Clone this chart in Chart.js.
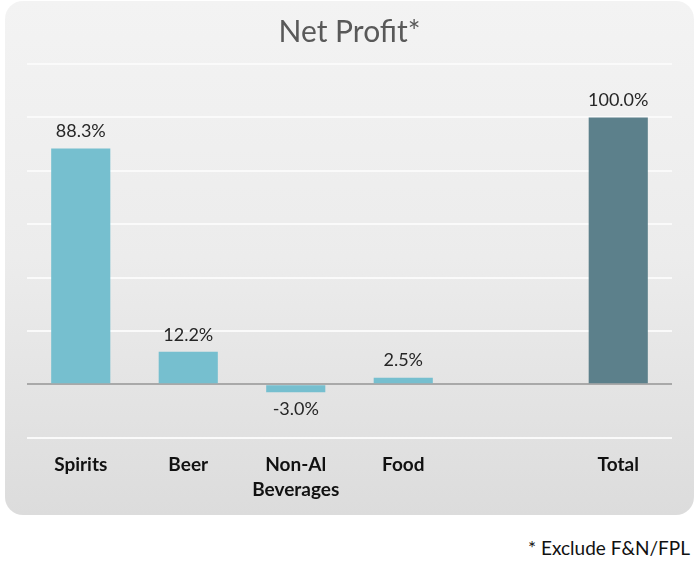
<!DOCTYPE html>
<html>
<head>
<meta charset="utf-8">
<script src="https://cdn.jsdelivr.net/npm/chart.js@4"></script>
<style>
  html, body { margin: 0; padding: 0; background: #ffffff; }
  #wrap { position: relative; width: 700px; height: 574px; }
  #panel {
    position: absolute; left: 5px; top: 1px; width: 689px; height: 514px;
    border-radius: 18px;
    background: linear-gradient(to bottom, #f3f3f3 0%, #ececec 50%, #dcdcdc 100%);
  }
  #note {
    position: absolute; right: 10px; top: 536px;
    font-family: Lato, "Open Sans", sans-serif; font-size: 19px; color: #111;
  }
  canvas { position: absolute; left: 0; top: 0; }
</style>
</head>
<body>
<div id="wrap">
  <div id="panel"></div>
  <canvas id="chart" width="700" height="520"></canvas>
  <div id="note">* Exclude F&amp;N/FPL</div>
</div>
<script>
// chart data
const categories = [['Spirits'], ['Beer'], ['Non-Al', 'Beverages'], ['Food'], [''], ['Total']];
const profitShare = [88.3, 12.2, -3.0, 2.5, null, 100.0];
const barColors = ['#76bfcf', '#76bfcf', '#76bfcf', '#76bfcf', '#76bfcf', '#5c808b'];

// draw the % labels above (or below) each bar
const valueLabels = {
  id: 'valueLabels',
  afterDatasetsDraw(chart) {
    const ctx = chart.ctx;
    const meta = chart.getDatasetMeta(0);
    ctx.save();
    ctx.font = '18px Lato, "Open Sans", sans-serif';
    ctx.fillStyle = '#262626';
    ctx.textAlign = 'center';
    ctx.textBaseline = 'middle';
    meta.data.forEach((bar, i) => {
      const v = profitShare[i];
      if (v === null) return;
      const y = v >= 0 ? bar.y - 17 : bar.y + 17;
      ctx.fillText(v.toFixed(1) + '%', bar.x, y);
    });
    ctx.restore();
  }
};

new Chart(document.getElementById('chart'), {
  type: 'bar',
  data: {
    labels: categories,
    datasets: [{
      data: profitShare,
      backgroundColor: barColors,
      categoryPercentage: 0.55,
      barPercentage: 1.0
    }]
  },
  options: {
    responsive: false,
    animation: false,
    layout: { padding: { left: 27, right: 28, bottom: 11 } },
    plugins: {
      legend: { display: false },
      tooltip: { enabled: false },
      title: {
        display: true,
        text: 'Net Profit*',
        color: '#595959',
        font: { family: 'Lato, "Open Sans", sans-serif', size: 30, weight: 'normal' },
        padding: { top: 14, bottom: 14 }
      }
    },
    scales: {
      x: {
        grid: { display: false },
        border: { display: false },
        ticks: {
          color: '#111111',
          padding: 6,
          font: { family: 'Lato, "Open Sans", sans-serif', size: 19, weight: 'bold', lineHeight: 1.35 },
          maxRotation: 0
        }
      },
      y: {
        min: -20,
        max: 120,
        border: { display: false },
        ticks: { display: false, stepSize: 20 },
        grid: {
          drawTicks: false,
          lineWidth: 2,
          color: c => c.tick.value === 0 ? '#a9a9a9' : '#fafafa'
        }
      }
    }
  },
  plugins: [valueLabels]
});
</script>
</body>
</html>
